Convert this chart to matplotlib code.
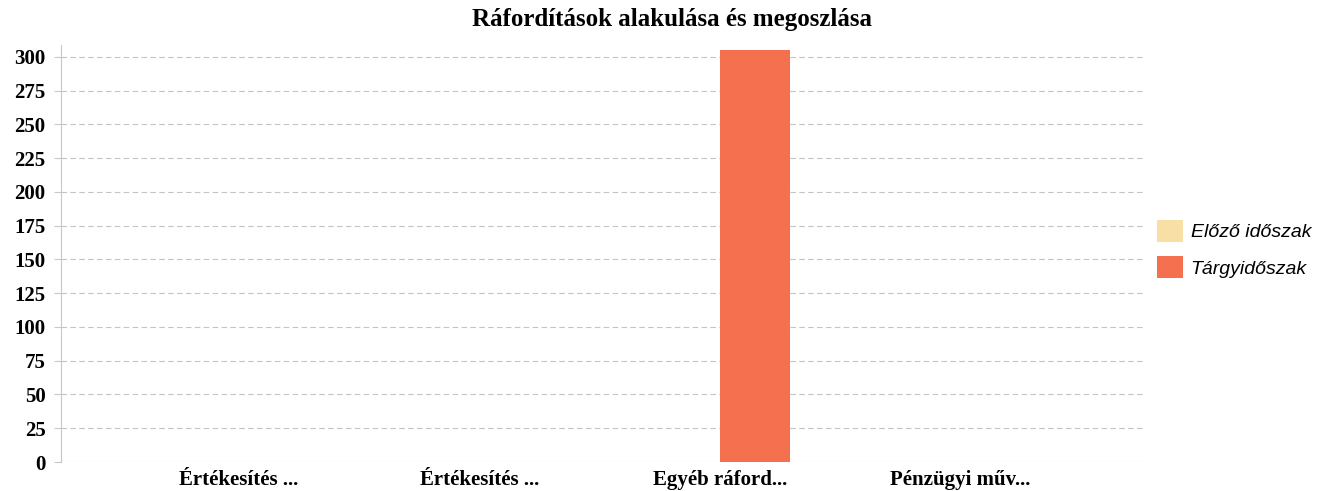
import numpy as np
import matplotlib
matplotlib.use("Agg")
import matplotlib.pyplot as plt

categories = ["Értékesítés ...", "Értékesítés ...", "Egyéb ráford...", "Pénzügyi műv..."]
elozo = [0, 0, 0, 0]
targy = [0, 0, 305, 0]
yticks = [0, 25, 50, 75, 100, 125, 150, 175, 200, 225, 250, 275, 300]

fig = plt.figure(figsize=(13.25, 4.91), dpi=100)
ax = fig.add_axes([0.046, 0.059, 0.817, 0.85])

x = np.arange(len(categories))
w = 0.29
ax.bar(x - w / 2, elozo, w, color="#f8dfa6", label="Előző időszak", zorder=3)
ax.bar(x + w / 2, targy, w, color="#f4704f", label="Tárgyidőszak", zorder=3)

ax.set_xlim(-0.74, 3.76)
ax.set_ylim(0, 309)
ax.set_yticks(yticks)
ax.set_xticks(x)
ax.set_xticklabels(categories, family="Liberation Serif", fontweight="bold", fontsize=15)
for lab in ax.get_yticklabels():
    lab.set_family("Liberation Serif")
    lab.set_fontweight("bold")
    lab.set_fontsize(15)

ax.grid(axis="y", color="#c4c4c4", linestyle=(0, (5, 3)), linewidth=0.8, zorder=0)
for s in ["top", "right", "bottom"]:
    ax.spines[s].set_visible(False)
ax.spines["left"].set_color("#c8c8c8")
ax.spines["left"].set_linewidth(0.8)
ax.tick_params(axis="y", length=5, color="#c8c8c8", pad=6)
ax.tick_params(axis="x", length=0, pad=6)

fig.suptitle("Ráfordítások alakulása és megoszlása", family="Liberation Serif",
             fontweight="bold", fontsize=18, x=0.507, y=0.983)

leg = ax.legend(loc="center left", bbox_to_anchor=(0.996, 0.51), frameon=False,
                prop={"family": "Liberation Sans", "style": "italic", "size": 14},
                handlelength=1.35, handleheight=1.35, handletextpad=0.4, labelspacing=0.75)

fig.savefig("out.png", dpi=100)
